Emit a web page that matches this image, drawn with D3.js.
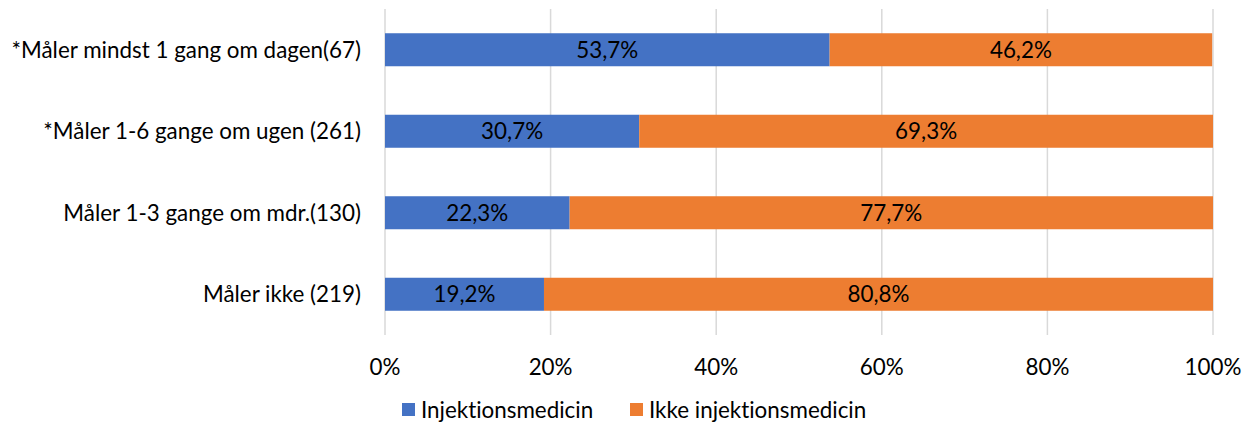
<!DOCTYPE html>
<html><head><meta charset="utf-8">
<script src="https://cdn.jsdelivr.net/npm/d3@7"></script>
<style>body{margin:0;background:#fff}text{font-family:Lato,"Open Sans",sans-serif;font-variant-ligatures:none;}</style>
</head><body><svg id="c" width="1250" height="423"></svg>
<script>
const categories = ["*Måler mindst 1 gang om dagen(67)","*Måler 1-6 gange om ugen (261)","Måler 1-3 gange om mdr.(130)","Måler ikke (219)"];
const injektion = [53.7, 30.7, 22.3, 19.2];
const ikke = [46.2, 69.3, 77.7, 80.8];
const tickValues = [0,20,40,60,80,100];
const seriesNames = ["Injektionsmedicin","Ikke injektionsmedicin"];
const colors = ["#4472c4","#ed7d31"];
const FS = 22.4;

const svg = d3.select("#c");
const x = d3.scaleLinear().domain([0,100]).range([385,1213]);
const y = d3.scaleBand().domain(categories).range([9,335]).paddingInner(0.595).paddingOuter(0.2975);
const fmt = v => v.toFixed(1).replace(".", ",") + "%";

svg.append("g").selectAll("line").data(tickValues).join("line")
  .attr("x1",d=>x(d)).attr("x2",d=>x(d)).attr("y1",9).attr("y2",335)
  .attr("stroke","#d9d9d9").attr("stroke-width",1.5);

const data = categories.map((c,i)=>({c, a:injektion[i], b:ikke[i]}));
const g = svg.append("g");
data.forEach(d=>{
  g.append("rect").attr("x",x(0)).attr("y",y(d.c)).attr("width",x(d.a)-x(0)).attr("height",y.bandwidth()).attr("fill",colors[0]);
  g.append("rect").attr("x",x(d.a)).attr("y",y(d.c)).attr("width",x(d.a+d.b)-x(d.a)).attr("height",y.bandwidth()).attr("fill",colors[1]);
  g.append("text").attr("x",(x(0)+x(d.a))/2).attr("y",y(d.c)+y.bandwidth()/2).attr("dy","0.35em").attr("text-anchor","middle").attr("font-size",FS).attr("fill","#000").text(fmt(d.a));
  g.append("text").attr("x",(x(d.a)+x(d.a+d.b))/2).attr("y",y(d.c)+y.bandwidth()/2).attr("dy","0.35em").attr("text-anchor","middle").attr("font-size",FS).attr("fill","#000").text(fmt(d.b));
});

svg.append("g").selectAll("text").data(categories).join("text")
  .attr("x",361).attr("y",d=>y(d)+y.bandwidth()/2).attr("dy","0.35em").attr("text-anchor","end")
  .attr("font-size",FS).attr("fill","#000").text(d=>d);

svg.append("g").selectAll("text").data(tickValues).join("text")
  .attr("x",d=>x(d)).attr("y",367).attr("dy","0.35em").attr("text-anchor","middle")
  .attr("font-size",FS).attr("fill","#000").text(d=>d+"%");

const leg = svg.append("g");
const legX = [402, 630];
seriesNames.forEach((n,i)=>{
  leg.append("rect").attr("x",legX[i]).attr("y",403).attr("width",13).attr("height",13).attr("fill",colors[i]);
  leg.append("text").attr("x",legX[i]+19).attr("y",410).attr("dy","0.35em").attr("font-size",FS).attr("fill","#000").text(n);
});
</script></body></html>
